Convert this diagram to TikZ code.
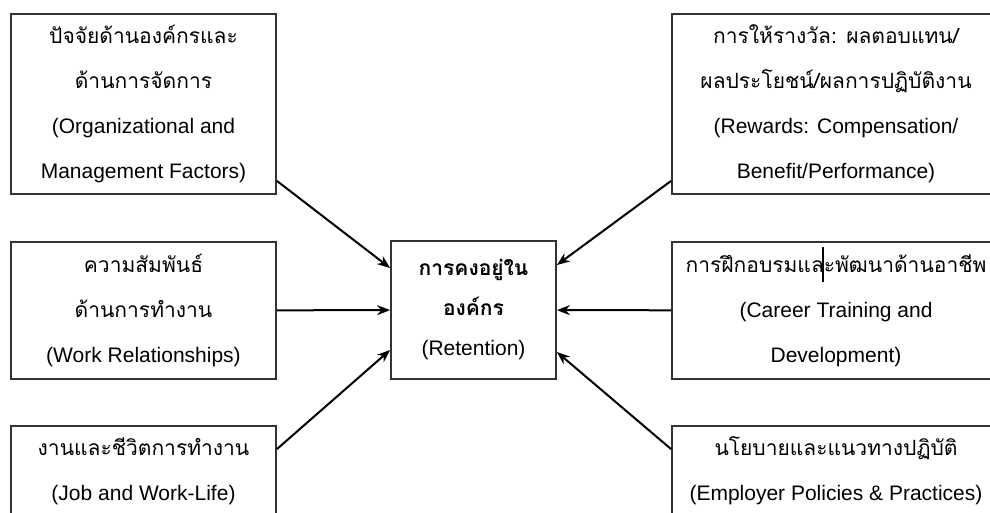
\documentclass[tikz,border=0pt]{standalone}
\usepackage{fontspec}
\setmainfont{Liberation Sans}
\newfontfamily\thai[Script=Thai]{Loma}
\usepackage{tikz}
\usetikzlibrary{arrows.meta, positioning}

\begin{document}
\begin{tikzpicture}[x=1pt, y=-1pt, >={Stealth[length=13pt,width=10pt]},
    factor/.style={rectangle, draw=black!80, line width=1.8pt, inner sep=0pt, align=center,
                   minimum width=265pt, font=\fontsize{21}{45}\selectfont},
    retention/.style={rectangle, draw=black!80, line width=1.8pt, inner sep=0pt, align=center,
                   minimum width=165pt, minimum height=138pt, font=\fontsize{21}{40}\selectfont},
    link/.style={->, line width=2pt}]
    \path[use as bounding box, clip] (0,0) rectangle (990,512);
    % factors on the left
    \node (orgmgmt)  at (143.5,104)   [factor, minimum height=180pt] {{\thai ปัจจัยด้านองค์กรและ}\\{\thai ด้านการจัดการ}\\(Organizational and\\Management Factors)};
    \node (workrel)  at (143.5,310.5) [factor, minimum height=137pt] {{\thai ความสัมพันธ์}\\{\thai ด้านการทำงาน}\\(Work Relationships)};
    \node (worklife) at (143.5,471)   [factor, minimum height=90pt] {{\thai งานและชีวิตการทำงาน}\\(Job and Work-Life)};
    % retention in the middle
    \node (retain)   at (473.5,310)   [retention] {{\thai\bfseries การคงอยู่ใน}\\{\thai\bfseries องค์กร}\\(Retention)};
    % factors on the right
    \node (rewards)  at (836,104)     [factor, minimum width=328pt, minimum height=180pt] {{\thai การให้รางวัล: ผลตอบแทน/}\\{\thai ผลประโยชน์/ผลการปฏิบัติงาน}\\(Rewards: Compensation/\\Benefit/Performance)};
    \node (career)   at (836,310.5)   [factor, minimum width=328pt, minimum height=137pt] {{\thai การฝึกอบรมและพัฒนาด้านอาชีพ}\\(Career Training and\\Development)};
    \node (policies) at (836,471)     [factor, minimum width=328pt, minimum height=90pt] {{\thai นโยบายและแนวทางปฏิบัติ}\\(Employer Policies \& Practices)};
    \draw[line width=1.2pt] (823,247) -- (823,282);
    \draw[link] ([yshift=14pt]orgmgmt.south east) -- ([yshift=42pt]retain.west);
    \draw[link] (workrel) -- (retain);
    \draw[link] ([yshift=-24pt]worklife.north east) -- ([yshift=-40pt]retain.west);
    \draw[link] ([yshift=14pt]rewards.south west) -- ([yshift=45pt]retain.east);
    \draw[link] (career) -- (retain);
    \draw[link] ([yshift=-24pt]policies.north west) -- ([yshift=-42pt]retain.east);
\end{tikzpicture}
\end{document}
